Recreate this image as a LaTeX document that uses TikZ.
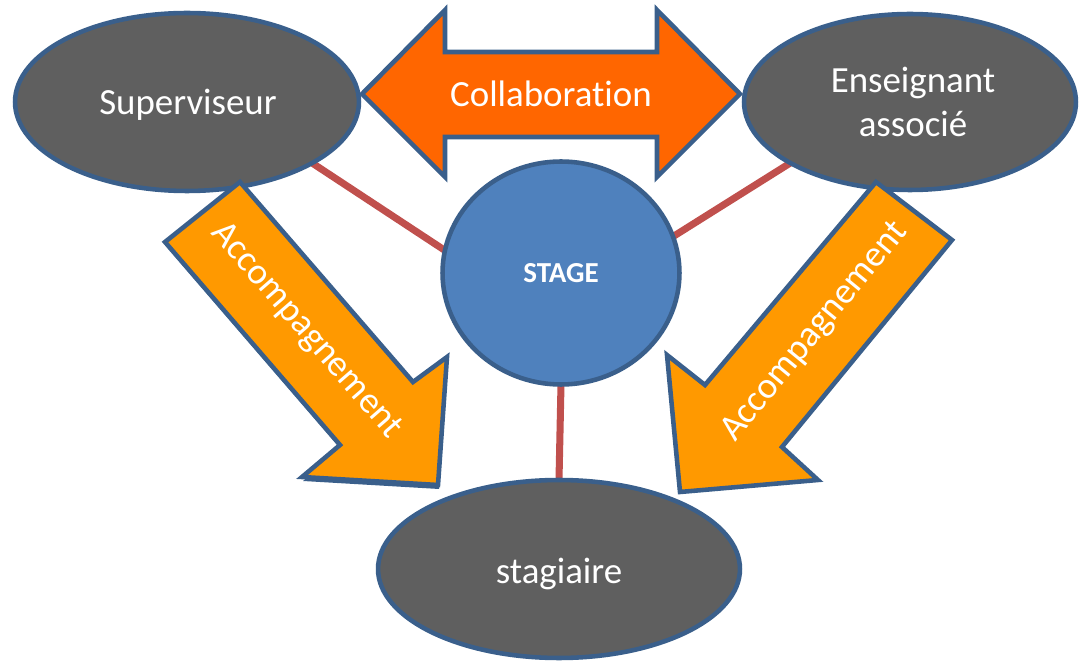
\documentclass[tikz,border=0pt]{standalone}
\usepackage{fontspec}
\setmainfont{Carlito}[Ligatures=NoCommon]
\usetikzlibrary{shapes.geometric,backgrounds}
\definecolor{bord}{HTML}{3A5F8B}
\definecolor{ovalgray}{HTML}{5F5F5F}
\definecolor{stageblue}{HTML}{4F81BD}
\definecolor{redline}{HTML}{C0504D}
\definecolor{orangeA}{HTML}{FF6600}
\definecolor{orangeB}{HTML}{FF9900}
\begin{document}
\begin{tikzpicture}[x=0.02cm,y=-0.02cm,
  oval/.style={ellipse, draw=bord, line width=2.6pt, fill=ovalgray, inner sep=0pt, outer sep=0pt},
  lbl/.style={text=white, font=\fontsize{21}{25.5}\selectfont, align=center, inner sep=0pt},
  link/.style={draw=redline, line width=4pt},
  bigarrow/.style={draw=bord, line width=2.6pt, line join=miter},
]
\useasboundingbox (0,0) rectangle (1080,662);

% nodes (shapes)
\node[oval, minimum width=6.88cm, minimum height=3.56cm] (sup) at (187,102) {};
\node[oval, minimum width=6.64cm, minimum height=3.52cm] (ens) at (910,102) {};
\node[oval, minimum width=7.24cm, minimum height=3.56cm] (stag) at (559,569) {};
\node[ellipse, draw=bord, line width=2.6pt, fill=stageblue, inner sep=0pt, outer sep=0pt,
      minimum width=4.74cm, minimum height=4.46cm] (stage) at (561,273) {};

% red links under the shapes
\begin{scope}[on background layer]
  \draw[link] (sup.-26.7) -- (stage.169.3);
  \draw[link] (ens.207.3) -- (stage.18.8);
  \draw[link] (stage.south) -- (stag.north);
\end{scope}

% Collaboration double arrow
\draw[bigarrow, fill=orangeA] (362,94) -- (445,10) -- (445,52) -- (657,52) -- (657,10)
  -- (740,94) -- (657,177) -- (657,137) -- (445,137) -- (445,177) -- cycle;

% left Accompagnement arrow (with shadow)
\fill[bord] (166,246) -- (241,186) -- (414,386) -- (448,361) -- (439,489)
  -- (303,481) -- (341,449) -- cycle;
\draw[bigarrow, fill=orangeB] (165,242) -- (240,182) -- (413,382) -- (447,357) -- (438,485)
  -- (302,477) -- (340,445) -- cycle;

% right Accompagnement arrow
\draw[bigarrow, fill=orangeB] (876,182) -- (952,240) -- (782,447) -- (818,480) -- (680,492)
  -- (667,355) -- (705,385) -- cycle;

% labels
\node[lbl, anchor=base] (supT) at (188,115) {Superviseur};
\node[lbl, anchor=center] (ensT) at (913,102) {Enseignant\\associé};
\node[lbl, anchor=base] (stagT) at (559,583) {stagiaire};
\node[lbl, anchor=base, text=white, font=\fontsize{16.5}{19}\selectfont\bfseries] (stageT) at (561,283) {STAGE};
\node[lbl, anchor=base] (colT) at (551,107) {Collaboration};
\node[lbl, rotate=-49.1] (accL) at (306,331) {Accompagnement};
\node[lbl, rotate=50.6] (accR) at (815,332) {Accompagnement};
\end{tikzpicture}
\end{document}
